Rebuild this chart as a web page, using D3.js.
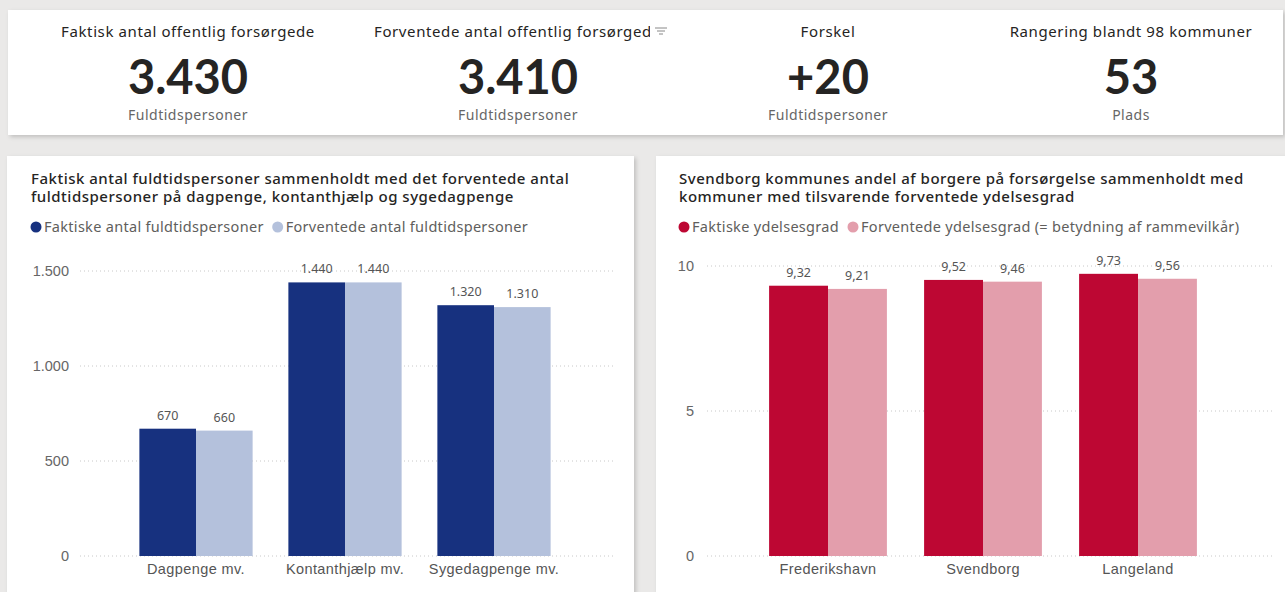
<!DOCTYPE html>
<html>
<head>
<meta charset="utf-8">
<style>
  body { margin: 0; background: #eae9e8; }
  svg { display: block; font-family: "Noto Sans", "Open Sans", sans-serif; }
  .axis .domain, .axis line { display: none; }
</style>
</head>
<body>
<svg width="1285" height="592"></svg>
<script src="https://d3js.org/d3.v7.min.js"></script>
<script>

// KPI cards
var kpiTitles = ["Faktisk antal offentlig forsørgede", "Forventede antal offentlig forsørgede", "Forskel", "Rangering blandt 98 kommuner"];
var kpiValues = ["3.430", "3.410", "+20", "53"];
var kpiUnits = ["Fuldtidspersoner", "Fuldtidspersoner", "Fuldtidspersoner", "Plads"];

// left chart
var leftCats = ["Dagpenge mv.", "Kontanthjælp mv.", "Sygedagpenge mv."];
var leftSeries = ["Faktiske antal fuldtidspersoner", "Forventede antal fuldtidspersoner"];
var faktiskeAntal = [670, 1440, 1320];
var forventedeAntal = [660, 1440, 1310];
var leftTicks = [0, 500, 1000, 1500];

// right chart
var rightCats = ["Frederikshavn", "Svendborg", "Langeland"];
var rightSeries = ["Faktiske ydelsesgrad", "Forventede ydelsesgrad (= betydning af rammevilkår)"];
var faktiskeGrad = [9.32, 9.52, 9.73];
var forventedeGrad = [9.21, 9.46, 9.56];
var rightTicks = [0, 5, 10];

var da = d3.formatLocale({decimal: ",", thousands: ".", grouping: [3], currency: ["", " kr."]});

var svg = d3.select("svg");

var defs = svg.append("defs");
var shadow = defs.append("filter").attr("id", "shadow")
  .attr("x", "-5%").attr("y", "-5%").attr("width", "110%").attr("height", "115%");
shadow.append("feDropShadow").attr("dx", 2).attr("dy", 2).attr("stdDeviation", 2)
  .attr("flood-color", "#000").attr("flood-opacity", 0.18);

// panels
svg.append("rect").attr("x", 8).attr("y", 10).attr("width", 1275).attr("height", 125)
  .attr("fill", "#fff").attr("filter", "url(#shadow)");
svg.append("rect").attr("x", 7).attr("y", 156).attr("width", 627).attr("height", 460)
  .attr("fill", "#fff").attr("filter", "url(#shadow)");
svg.append("rect").attr("x", 656).attr("y", 156).attr("width", 640).attr("height", 460)
  .attr("fill", "#fff").attr("filter", "url(#shadow)");

// ---- KPI cards ----
var kpiX = [188, 518, 828, 1131];
defs.append("clipPath").attr("id", "clip2")
  .append("rect").attr("x", 360).attr("y", 10).attr("width", 290).attr("height", 40);

var kpi = svg.append("g").selectAll("g")
  .data(kpiTitles)
  .enter().append("g")
  .attr("transform", function(d, i) { return "translate(" + kpiX[i] + ",0)"; });

kpi.filter(function(d, i) { return i != 1; })
  .append("text")
  .attr("y", 37)
  .attr("text-anchor", "middle")
  .attr("font-size", 15)
  .attr("letter-spacing", 0.6)
  .attr("fill", "#252423")
  .text(function(d) { return d; });

// second title is cut off in the card
svg.append("text")
  .attr("x", 374).attr("y", 37)
  .attr("clip-path", "url(#clip2)")
  .attr("font-size", 15)
  .attr("letter-spacing", 0.6)
  .attr("fill", "#252423")
  .text(kpiTitles[1]);

kpi.append("text")
  .attr("y", 94)
  .attr("text-anchor", "middle")
  .attr("font-size", 47)
  .attr("font-weight", "bold")
  .attr("font-family", "Lato, sans-serif")
  .attr("fill", "#252423")
  .text(function(d, i) { return kpiValues[i]; });

kpi.append("text")
  .attr("y", 120)
  .attr("text-anchor", "middle")
  .attr("font-size", 14)
  .attr("letter-spacing", 0.5)
  .attr("fill", "#666")
  .text(function(d, i) { return kpiUnits[i]; });

// filter icon next to clipped title
var icon = svg.append("g").attr("stroke", "#888").attr("stroke-width", 1);
[[655, 667, 28], [657, 665, 31], [659, 663, 34]].forEach(function(l) {
  icon.append("line").attr("x1", l[0]).attr("x2", l[1]).attr("y1", l[2]).attr("y2", l[2]);
});

// ---- bar chart helper ----
function barChart(opt) {
  var g = svg.append("g");

  opt.title.forEach(function(t, i) {
    g.append("text")
      .attr("x", opt.titleX).attr("y", 184 + i * 18)
      .attr("font-size", 15).attr("font-weight", 500).attr("letter-spacing", 0.5)
      .attr("fill", "#252423")
      .text(t);
  });

  // legend
  var lx = opt.titleX + 5;
  opt.series.forEach(function(s, i) {
    g.append("circle").attr("cx", lx).attr("cy", 227).attr("r", 5.5).attr("fill", opt.colors[i]);
    var t = g.append("text").attr("x", lx + 8).attr("y", 232)
      .attr("font-size", 14.5).attr("letter-spacing", 0.3).attr("fill", "#605e5c").text(s);
    lx += 8 + t.node().getComputedTextLength() + 14;
  });

  var x0 = d3.scaleBand().domain(opt.cats).range(opt.xRange)
    .paddingInner(0.24).paddingOuter(0.12);
  var x1 = d3.scaleBand().domain([0, 1]).range([0, x0.bandwidth()]);
  var y = d3.scaleLinear().domain(opt.yDomain).range([556, opt.yTop]);

  // gridlines
  g.append("g").selectAll("line")
    .data(opt.ticks)
    .enter().append("line")
    .attr("x1", opt.gridX[0]).attr("x2", opt.gridX[1])
    .attr("y1", function(d) { return y(d); }).attr("y2", function(d) { return y(d); })
    .attr("stroke", "#c8c8c8").attr("stroke-dasharray", "1,3");

  g.append("g")
    .attr("class", "axis")
    .attr("transform", "translate(" + opt.yLabelX + ",0)")
    .call(d3.axisLeft(y).tickValues(opt.ticks).tickSize(0).tickPadding(0).tickFormat(da.format(",")))
    .call(function(a) {
      a.selectAll("text").attr("font-size", 14.5).attr("fill", "#666").attr("font-family", null);
    });

  var groups = g.append("g").selectAll("g")
    .data(opt.cats)
    .enter().append("g")
    .attr("transform", function(d) { return "translate(" + x0(d) + ",0)"; });

  var rows = function(d, i) { return [opt.a[i], opt.b[i]]; };

  groups.selectAll("rect")
    .data(rows)
    .enter().append("rect")
    .attr("x", function(d, j) { return x1(j); })
    .attr("y", function(d) { return y(d); })
    .attr("width", x1.bandwidth())
    .attr("height", function(d) { return y(0) - y(d); })
    .attr("fill", function(d, j) { return opt.colors[j]; });

  groups.selectAll("text.val")
    .data(rows)
    .enter().append("text")
    .attr("class", "val")
    .attr("x", function(d, j) { return x1(j) + x1.bandwidth() / 2; })
    .attr("y", function(d) { return y(d) - 9; })
    .attr("text-anchor", "middle")
    .attr("font-size", 12.5)
    .attr("fill", "#555")
    .text(function(d) { return opt.fmt(d); });

  g.append("g")
    .attr("class", "axis")
    .attr("transform", "translate(0,556)")
    .call(d3.axisBottom(x0).tickSize(0).tickPadding(8))
    .call(function(a) {
      a.selectAll("text").attr("font-size", 14.5).attr("letter-spacing", 0.4)
        .attr("fill", "#555").attr("font-family", null);
    });
}

barChart({
  title: ["Faktisk antal fuldtidspersoner sammenholdt med det forventede antal",
          "fuldtidspersoner på dagpenge, kontanthjælp og sygedagpenge"],
  titleX: 31,
  series: leftSeries,
  colors: ["#17317f", "#b4c1dc"],
  cats: leftCats, a: faktiskeAntal, b: forventedeAntal,
  ticks: leftTicks, yDomain: [0, 1500], yTop: 271,
  xRange: [121.5, 568.5], gridX: [80, 614], yLabelX: 69,
  fmt: da.format(",")
});

barChart({
  title: ["Svendborg kommunes andel af borgere på forsørgelse sammenholdt med",
          "kommuner med tilsvarende forventede ydelsesgrad"],
  titleX: 679,
  series: rightSeries,
  colors: ["#bd0733", "#e39eac"],
  cats: rightCats, a: faktiskeGrad, b: forventedeGrad,
  ticks: rightTicks, yDomain: [0, 10], yTop: 266,
  xRange: [750.5, 1215.5], gridX: [707, 1273], yLabelX: 694,
  fmt: da.format(",.2f")
});

</script>
</body>
</html>
